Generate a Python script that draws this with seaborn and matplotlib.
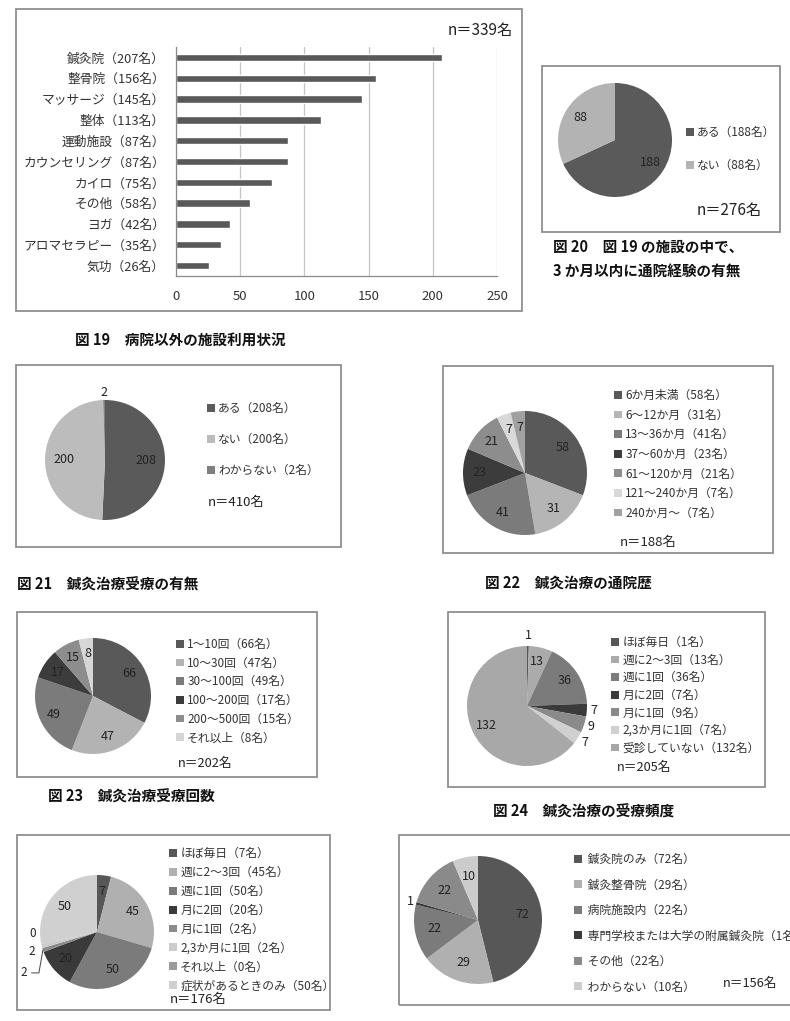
import numpy as np
import pandas as pd
import matplotlib
matplotlib.use("Agg")
import matplotlib.pyplot as plt
from matplotlib.patches import Rectangle
import seaborn as sns

sns.set_style("white")
plt.rcParams['font.family'] = ['Noto Sans CJK JP', 'DejaVu Sans']
plt.rcParams['text.color'] = '#333333'

# ---------------- data ----------------
fac_names = ["鍼灸院", "整骨院", "マッサージ", "整体", "運動施設", "カウンセリング",
             "カイロ", "その他", "ヨガ", "アロマセラピー", "気功"]
fac_counts = [207, 156, 145, 113, 87, 87, 75, 58, 42, 35, 26]
fac_n = 339

f20_names = ["ある", "ない"]
f20_vals = [188, 88]
f20_n = 276

f21_names = ["ある", "ない", "わからない"]
f21_vals = [208, 200, 2]
f21_n = 410

f22_names = ["6か月未満", "6～12か月", "13～36か月", "37～60か月", "61～120か月",
             "121～240か月", "240か月～"]
f22_vals = [58, 31, 41, 23, 21, 7, 7]
f22_n = 188

f23_names = ["1～10回", "10～30回", "30～100回", "100～200回", "200～500回", "それ以上"]
f23_vals = [66, 47, 49, 17, 15, 8]
f23_n = 202

f24_names = ["ほぼ毎日", "週に2～3回", "週に1回", "月に2回", "月に1回", "2,3か月に1回", "受診していない"]
f24_vals = [1, 13, 36, 7, 9, 7, 132]
f24_n = 205

f25_names = ["ほぼ毎日", "週に2～3回", "週に1回", "月に2回", "月に1回", "2,3か月に1回",
             "それ以上", "症状があるときのみ"]
f25_vals = [7, 45, 50, 20, 2, 2, 0, 50]
f25_n = 176

f26_names = ["鍼灸院のみ", "鍼灸整骨院", "病院施設内", "専門学校または大学の附属鍼灸院", "その他", "わからない"]
f26_vals = [72, 29, 22, 1, 22, 10]
f26_n = 156

# ---------------- layout helpers ----------------
W, H = 790, 1021
fig = plt.figure(figsize=(W / 100, H / 100), dpi=100)
fig.patch.set_facecolor('white')

def fx(x):
    return x / W

def fy(y):
    return 1 - y / H

def box(x0, y0, x1, y1):
    fig.add_artist(Rectangle((fx(x0), fy(y1)), fx(x1) - fx(x0), fy(y0) - fy(y1),
                             transform=fig.transFigure, fill=False,
                             ec='#8f8f8f', lw=1.3))

def pie_axes(cx, cy, r):
    ax = fig.add_axes([fx(cx - r), fy(cy + r), 2 * r / W, 2 * r / H])
    return ax

def draw_pie(ax, vals, colors, dist=0.72, outside=None, fs=9):
    outside = outside or {}
    wedges, _ = ax.pie(vals, colors=colors, startangle=90, counterclock=False,
                       wedgeprops=dict(linewidth=0))
    ax.set_xlim(-1, 1)
    ax.set_ylim(-1, 1)
    ax.set_aspect('equal')
    ax.axis('off')
    for i, (w, v) in enumerate(zip(wedges, vals)):
        a = np.deg2rad((w.theta1 + w.theta2) / 2)
        if i in outside:
            spec = outside[i]
            if isinstance(spec, tuple):
                continue
            d = spec
        else:
            d = dist
        ax.text(d * np.cos(a), d * np.sin(a), str(v), ha='center', va='center',
                fontsize=fs, color='#222222')
    return wedges

def legend(wedges, names, vals, x, y, spacing, fs=8.5, sep=""):
    labels = [f"{sep}{n}（{v}名）" for n, v in zip(names, vals)]
    fig.legend(wedges, labels, loc='upper left', bbox_to_anchor=(fx(x), fy(y)),
               bbox_transform=fig.transFigure, frameon=False, fontsize=fs,
               handlelength=0.65, handleheight=0.65, handletextpad=0.3,
               labelspacing=spacing, borderaxespad=0, borderpad=0,
               labelcolor='#333333')

def ntext(x, y, n, fs=9):
    fig.text(fx(x), fy(y), f"n＝{n}名", fontsize=fs, ha='left', va='center', color='#222222')

def caption(x, y, s, fs=10.5):
    fig.text(fx(x), fy(y), s, fontsize=fs, fontweight='bold', ha='left', va='center', color='#111111')

# ---------------- Fig 19: bar chart ----------------
box(16, 9, 522, 311)
axb = fig.add_axes([fx(176), fy(276), (497 - 176) / W, (276 - 47) / H])
df = pd.DataFrame({"label": [f"{n}（{v}名）" for n, v in zip(fac_names, fac_counts)],
                   "count": fac_counts})
sns.barplot(data=df, y="label", x="count", orient="h", color="#595959",
            saturation=1, width=0.35, ax=axb)
axb.set_xlim(0, 250)
axb.set_xticks(np.arange(0, 251, 50))
axb.set_ylim(len(fac_counts) - 0.5, -0.5)
axb.set_yticks(np.arange(len(fac_counts) + 1) - 0.5, minor=True)
axb.set_xlabel("")
axb.set_ylabel("")
axb.grid(axis='x', color='#c4c4c4', lw=0.9)
axb.set_axisbelow(True)
for s in ['top', 'right']:
    axb.spines[s].set_visible(False)
for s in ['left', 'bottom']:
    axb.spines[s].set_color('#8a8a8a')
    axb.spines[s].set_linewidth(0.9)
axb.tick_params(axis='y', which='major', length=0, labelsize=9.2, pad=8, labelcolor='#333333')
axb.tick_params(axis='y', which='minor', length=4, color='#8a8a8a', direction='out')
axb.tick_params(axis='x', which='major', length=4, color='#8a8a8a', direction='out',
                labelsize=9.5, pad=6, labelcolor='#333333')
fig.text(fx(448), fy(30), f"n＝{fac_n}名", fontsize=11, ha='left', va='center', color='#222222')
caption(75, 340, "図 19　病院以外の施設利用状況")

# ---------------- Fig 20 ----------------
box(542, 66, 780, 232)
ax = pie_axes(615, 140, 57)
w = draw_pie(ax, f20_vals, ["#5a5a5a", "#b3b3b3"], dist=0.73)
legend(w, f20_names, f20_vals, 686, 126, 1.69)
ntext(697, 210, f20_n, fs=11)
caption(553, 247, "図 20　図 19 の施設の中で、")
caption(553, 272, "3 か月以内に通院経験の有無")

# ---------------- Fig 21 ----------------
box(16, 365, 341, 547)
ax = pie_axes(105, 460, 60)
w = draw_pie(ax, f21_vals, ["#5a5a5a", "#bcbcbc", "#7f7f7f"], dist=0.68,
             outside={2: 1.13})
legend(w, f21_names, f21_vals, 207, 402, 1.52)
ntext(208, 502, f21_n, fs=9.5)
caption(17, 585, "図 21　鍼灸治療受療の有無")

# ---------------- Fig 22 ----------------
box(443, 366, 773, 553)
ax = pie_axes(525, 473, 62)
w = draw_pie(ax, f22_vals, ["#595959", "#b5b5b5", "#7b7b7b", "#3c3c3c", "#8d8d8d",
                            "#d9d9d9", "#a1a1a1"], dist=0.74)
legend(w, f22_names, f22_vals, 614, 389, 0.56)
ntext(620, 542, f22_n, fs=9.5)
caption(485, 583, "図 22　鍼灸治療の通院歴")

# ---------------- Fig 23 ----------------
box(17, 612, 317, 777)
ax = pie_axes(93, 696, 58)
w = draw_pie(ax, f23_vals, ["#595959", "#b3b3b3", "#7b7b7b", "#3c3c3c", "#8d8d8d",
                            "#d6d6d6"], dist=0.74)
legend(w, f23_names, f23_vals, 176, 638, 0.48)
ntext(178, 763, f23_n, fs=9.2)
caption(48, 797, "図 23　鍼灸治療受療回数")

# ---------------- Fig 24 ----------------
box(448, 612, 765, 787)
ax = pie_axes(527, 706, 60)
w = draw_pie(ax, f24_vals, ["#575757", "#ababab", "#7b7b7b", "#3a3a3a", "#8a8a8a",
                            "#d0d0d0", "#a8a8a8"], dist=0.76,
             outside={0: 1.18, 3: 1.12, 4: 1.12, 5: 1.14})
legend(w, f24_names, f24_vals, 611, 636, 0.39)
ntext(617, 767, f24_n, fs=9.2)
caption(493, 812, "図 24　鍼灸治療の受療頻度")

# ---------------- Fig 25 ----------------
box(17, 835, 330, 1010)
ax = pie_axes(97, 932, 57)
w = draw_pie(ax, f25_vals, ["#575757", "#b0b0b0", "#7b7b7b", "#3a3a3a", "#8a8a8a",
                            "#cccccc", "#9a9a9a", "#d0d0d0"], dist=0.72,
             outside={4: (), 5: (), 6: ()})
# small slices labelled outside
offs = {6: (-6.5, 8.0, False), 5: (-7.0, -3.6, False), 4: (-14.0, -16.5, True)}
for i, (dx, dy, lead) in offs.items():
    a = np.deg2rad((w[i].theta1 + w[i].theta2) / 2)
    pt = (np.cos(a), np.sin(a))
    kw = dict(arrowprops=dict(arrowstyle='-', color='#444444', lw=0.7, shrinkA=1, shrinkB=0,
                              connectionstyle='angle,angleA=0,angleB=80,rad=0')) if lead else {}
    ax.annotate(str(f25_vals[i]), xy=pt, xytext=(dx, dy), textcoords='offset points',
                ha='center', va='center', fontsize=8.5, color='#222222', **kw)
legend(w, f25_names, f25_vals, 169, 847, 0.5)
ntext(170, 999, f25_n, fs=9.5)

# ---------------- Fig 26 ----------------
box(399, 835, 800, 1005)
ax = pie_axes(478, 920, 64)
w = draw_pie(ax, f26_vals, ["#575757", "#b0b0b0", "#7b7b7b", "#3a3a3a", "#8a8a8a",
                            "#cccccc"], dist=0.7, outside={3: 1.1})
legend(w, f26_names, f26_vals, 574, 853, 1.06, sep=" ")
ntext(723, 983, f26_n, fs=9.2)

fig.savefig("out.png", dpi=100, facecolor='white')
